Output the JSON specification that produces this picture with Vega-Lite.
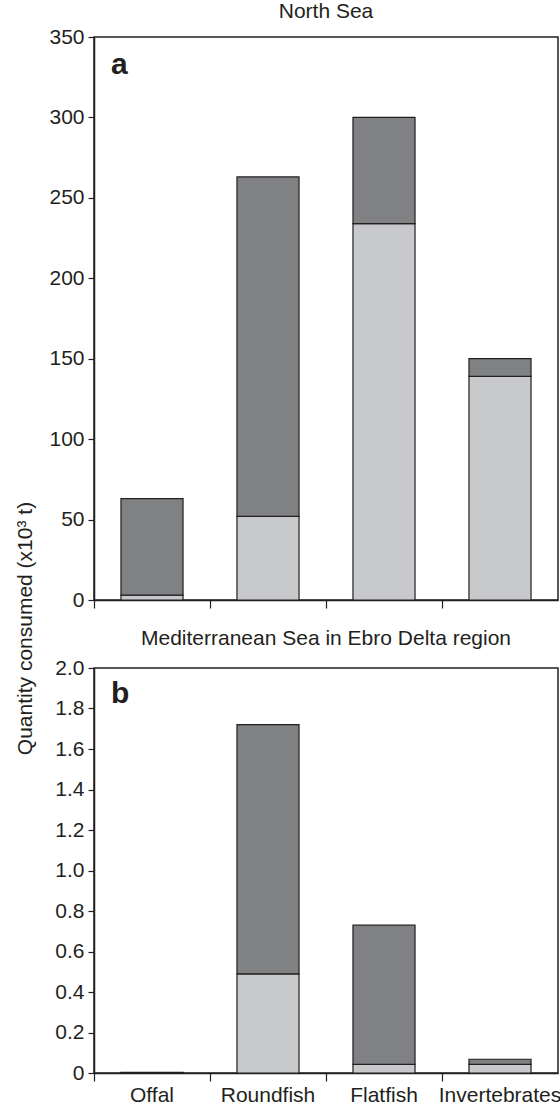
{
  "$schema": "https://vega.github.io/schema/vega-lite/v6.json",
  "background": "white",
  "padding": {"left": 13, "top": 0, "right": 0, "bottom": 0},
  "config": {
    "font": "Liberation Sans",
    "view": {"stroke": "#231f20", "strokeWidth": 1.5},
    "axis": {
      "grid": false,
      "domainColor": "#231f20",
      "domainWidth": 1.5,
      "tickColor": "#231f20",
      "tickWidth": 1.2,
      "labelColor": "#231f20",
      "labelFontSize": 21,
      "labelFont": "Liberation Sans",
      "titleFont": "Liberation Sans",
      "titleColor": "#231f20",
      "titleFontWeight": "normal",
      "titleFontSize": 21
    },
    "title": {"font": "Liberation Sans", "fontSize": 21, "fontWeight": "normal", "color": "#231f20"}
  },
  "datasets": {
    "ns": [
      {"category": "Offal", "part": "lower", "value": 3},
      {"category": "Offal", "part": "upper", "value": 60},
      {"category": "Roundfish", "part": "lower", "value": 52},
      {"category": "Roundfish", "part": "upper", "value": 211},
      {"category": "Flatfish", "part": "lower", "value": 234},
      {"category": "Flatfish", "part": "upper", "value": 66},
      {"category": "Invertebrates", "part": "lower", "value": 139},
      {"category": "Invertebrates", "part": "upper", "value": 11}
    ],
    "med": [
      {"category": "Offal", "part": "lower", "value": 0.001},
      {"category": "Offal", "part": "upper", "value": 0.002},
      {"category": "Roundfish", "part": "lower", "value": 0.49},
      {"category": "Roundfish", "part": "upper", "value": 1.23},
      {"category": "Flatfish", "part": "lower", "value": 0.043},
      {"category": "Flatfish", "part": "upper", "value": 0.687},
      {"category": "Invertebrates", "part": "lower", "value": 0.043},
      {"category": "Invertebrates", "part": "upper", "value": 0.025}
    ]
  },
  "bounds": "flush",
  "spacing": 68,
  "vconcat": [
    {
      "width": 464,
      "height": 563,
      "title": {"text": "North Sea", "offset": 4},
      "layer": [
        {
          "data": {"name": "ns"},
          "mark": {"type": "bar", "width": {"band": 0.535}, "stroke": "#231f20", "strokeWidth": 1.2},
          "encoding": {
            "x": {
              "field": "category", "type": "nominal",
              "sort": ["Offal", "Roundfish", "Flatfish", "Invertebrates"],
              "scale": {"paddingInner": 0, "paddingOuter": 0},
              "axis": {"title": null, "labels": false, "bandPosition": 0, "tickSize": 8}
            },
            "y": {
              "field": "value", "type": "quantitative", "stack": "zero",
              "scale": {"domain": [0, 350], "nice": false},
              "axis": {
                "values": [0, 50, 100, 150, 200, 250, 300, 350],
                "tickSize": 6, "labelPadding": 4,
                "title": "Quantity consumed (x10³ t)",
                "titleX": -59, "titleY": 591
              }
            },
            "color": {
              "field": "part", "type": "nominal",
              "scale": {"domain": ["lower", "upper"], "range": ["#c8c9cb", "#808183"]},
              "legend": null
            },
            "order": {"field": "part", "sort": "ascending"}
          }
        },
        {
          "data": {"values": [{"label": "a"}]},
          "mark": {"type": "text", "align": "left", "baseline": "alphabetic", "dx": 17, "fontSize": 30, "fontWeight": "bold", "color": "#231f20"},
          "encoding": {
            "x": {"datum": "Offal", "type": "nominal", "bandPosition": 0},
            "y": {"datum": 327, "type": "quantitative"},
            "text": {"field": "label"}
          }
        }
      ]
    },
    {
      "width": 464,
      "height": 405,
      "title": {"text": "Mediterranean Sea in Ebro Delta region", "offset": 8},
      "layer": [
        {
          "data": {"name": "med"},
          "mark": {"type": "bar", "width": {"band": 0.535}, "stroke": "#231f20", "strokeWidth": 1.2},
          "encoding": {
            "x": {
              "field": "category", "type": "nominal",
              "sort": ["Offal", "Roundfish", "Flatfish", "Invertebrates"],
              "scale": {"paddingInner": 0, "paddingOuter": 0},
              "axis": {"title": null, "labelAngle": 0, "bandPosition": 0, "tickSize": 8, "labelPadding": 3, "labelBound": false, "labelOverlap": false}
            },
            "y": {
              "field": "value", "type": "quantitative", "stack": "zero",
              "scale": {"domain": [0, 2], "nice": false},
              "axis": {
                "values": [0, 0.2, 0.4, 0.6, 0.8, 1.0, 1.2, 1.4, 1.6, 1.8, 2.0],
                "labelExpr": "datum.value == 0 ? '0' : format(datum.value, '.1f')",
                "tickSize": 6, "labelPadding": 4, "title": null
              }
            },
            "color": {
              "field": "part", "type": "nominal",
              "scale": {"domain": ["lower", "upper"], "range": ["#c8c9cb", "#808183"]},
              "legend": null
            },
            "order": {"field": "part", "sort": "ascending"}
          }
        },
        {
          "data": {"values": [{"label": "b"}]},
          "mark": {"type": "text", "align": "left", "baseline": "alphabetic", "dx": 17, "fontSize": 30, "fontWeight": "bold", "color": "#231f20"},
          "encoding": {
            "x": {"datum": "Offal", "type": "nominal", "bandPosition": 0},
            "y": {"datum": 1.827, "type": "quantitative"},
            "text": {"field": "label"}
          }
        }
      ]
    }
  ]
}
